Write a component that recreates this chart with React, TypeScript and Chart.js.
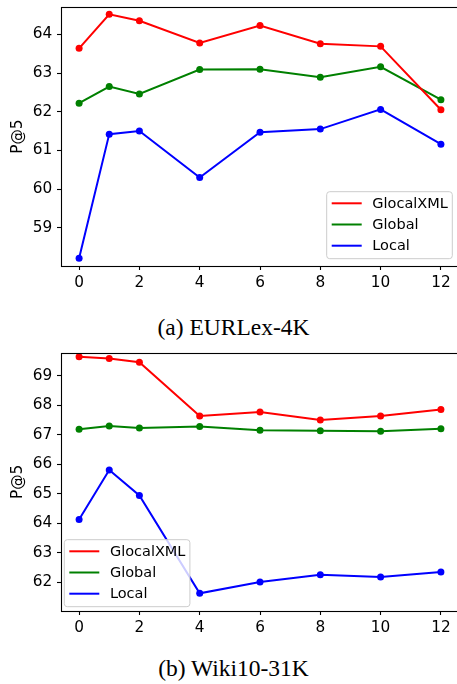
import React, { useEffect, useRef } from "react";
import { Chart, registerables } from "chart.js";

Chart.register(...registerables);

const xValues = [0, 1, 2, 4, 6, 8, 10, 12];
const xTickValues = [0, 2, 4, 6, 8, 10, 12];
const seriesNames = ["GlocalXML", "Global", "Local"];
const seriesColors = ["#ff0000", "#008000", "#0000ff"];

const eurlexGlocal = [63.64, 64.52, 64.35, 63.78, 64.23, 63.76, 63.69, 62.05];
const eurlexGlobal = [62.22, 62.65, 62.46, 63.09, 63.1, 62.89, 63.16, 62.31];
const eurlexLocal = [58.21, 61.42, 61.5, 60.3, 61.47, 61.55, 62.06, 61.16];
const eurlexYTicks = [59, 60, 61, 62, 63, 64];

const wikiGlocal = [69.65, 69.59, 69.47, 67.64, 67.78, 67.51, 67.64, 67.86];
const wikiGlobal = [67.19, 67.3, 67.24, 67.29, 67.16, 67.14, 67.13, 67.21];
const wikiLocal = [64.13, 65.81, 64.95, 61.63, 62.01, 62.26, 62.18, 62.35];
const wikiYTicks = [62, 63, 64, 65, 66, 67, 68, 69];

const FONT = "DejaVu Sans";
const FS = 15.3;
const LFS = 14.5;

type PanelProps = {
  series: number[][];
  yTicks: number[];
  yMin: number;
  yMax: number;
  padTop: number;
  height: number;
  top: number;
  legendSide: "left" | "right";
  legendDx: number;
  legendDy: number;
};

function Panel(p: PanelProps) {
  const ref = useRef<HTMLCanvasElement | null>(null);
  useEffect(() => {
    if (!ref.current) return;
    const framePlugin = {
      id: "frame",
      afterDraw(chart: any) {
        const { ctx, chartArea } = chart;
        ctx.save();
        ctx.strokeStyle = "#000";
        ctx.lineWidth = 1.1;
        const l = Math.round(chartArea.left) + 0.5;
        const t = Math.round(chartArea.top) + 0.5;
        const r = Math.round(chartArea.right) + 0.5;
        const b = Math.round(chartArea.bottom) + 0.5;
        ctx.strokeRect(l, t, r - l, b - t);
        // legend
        const w = 125.6;
        const h = 67;
        const x0 =
          p.legendSide === "right"
            ? chartArea.right - p.legendDx - w
            : chartArea.left + p.legendDx;
        const y0 = chartArea.bottom - p.legendDy - h;
        const rad = 3;
        ctx.beginPath();
        ctx.moveTo(x0 + rad, y0);
        ctx.lineTo(x0 + w - rad, y0);
        ctx.arcTo(x0 + w, y0, x0 + w, y0 + rad, rad);
        ctx.lineTo(x0 + w, y0 + h - rad);
        ctx.arcTo(x0 + w, y0 + h, x0 + w - rad, y0 + h, rad);
        ctx.lineTo(x0 + rad, y0 + h);
        ctx.arcTo(x0, y0 + h, x0, y0 + h - rad, rad);
        ctx.lineTo(x0, y0 + rad);
        ctx.arcTo(x0, y0, x0 + rad, y0, rad);
        ctx.closePath();
        ctx.fillStyle = "rgba(255,255,255,0.8)";
        ctx.fill();
        ctx.strokeStyle = "#cccccc";
        ctx.lineWidth = 1;
        ctx.stroke();
        chart.data.datasets.forEach((ds: any, i: number) => {
          const y = y0 + 11.6 + i * 21.2;
          ctx.beginPath();
          ctx.strokeStyle = ds.borderColor;
          ctx.lineWidth = 2;
          ctx.moveTo(x0 + 5, y);
          ctx.lineTo(x0 + 35, y);
          ctx.stroke();
          ctx.fillStyle = "#000";
          ctx.font = `${LFS}px "${FONT}"`;
          ctx.textBaseline = "middle";
          ctx.textAlign = "left";
          ctx.fillText(ds.label, x0 + 45.6, y + 0.5);
        });
        ctx.restore();
      },
    };
    const chart = new Chart(ref.current, {
      type: "line",
      data: {
        datasets: p.series.map((vals, i) => ({
          label: seriesNames[i],
          data: vals.map((v, j) => ({ x: xValues[j], y: v })),
          borderColor: seriesColors[i],
          backgroundColor: seriesColors[i],
          pointBackgroundColor: seriesColors[i],
          pointBorderWidth: 0,
          pointRadius: 3.5,
          borderWidth: 2,
          tension: 0,
          fill: false,
        })),
      },
      options: {
        animation: false,
        responsive: false,
        devicePixelRatio: 1,
        layout: { padding: { left: 0, right: 21, top: p.padTop, bottom: 0 } },
        plugins: { legend: { display: false }, tooltip: { enabled: false } },
        scales: {
          x: {
            type: "linear",
            min: -0.6,
            max: 12.6,
            border: { display: false },
            grid: {
              drawOnChartArea: false,
              drawTicks: true,
              tickLength: 4,
              tickColor: "#000",
              tickWidth: 1.1,
            },
            ticks: {
              color: "#000",
              font: { family: FONT, size: FS },
              padding: 3.5,
              maxRotation: 0,
              autoSkip: false,
            },
            afterBuildTicks: (axis: any) => {
              axis.ticks = xTickValues.map((v) => ({ value: v }));
            },
            afterFit: (axis: any) => {
              axis.height = 34;
              axis.paddingLeft = 0;
              axis.paddingRight = 0;
              axis.paddingTop = 0;
              axis.paddingBottom = 0;
            },
          },
          y: {
            type: "linear",
            min: p.yMin,
            max: p.yMax,
            border: { display: false },
            grid: {
              drawOnChartArea: false,
              drawTicks: true,
              tickLength: 4,
              tickColor: "#000",
              tickWidth: 1.1,
            },
            ticks: {
              color: "#000",
              font: { family: FONT, size: FS },
              padding: 4.7,
              autoSkip: false,
            },
            title: {
              display: true,
              text: "P@5",
              color: "#000",
              font: { family: FONT, size: FS },
              padding: { top: 9.2, bottom: 0 },
            },
            afterBuildTicks: (axis: any) => {
              axis.ticks = p.yTicks.map((v) => ({ value: v }));
            },
            afterFit: (axis: any) => {
              axis.width = 61;
              axis.paddingLeft = 0;
              axis.paddingRight = 0;
              axis.paddingTop = 0;
              axis.paddingBottom = 0;
            },
          },
        },
      },
      plugins: [framePlugin],
    } as any);
    return () => chart.destroy();
  }, []);
  return (
    <canvas
      ref={ref}
      width={480}
      height={p.height}
      style={{
        position: "absolute",
        left: 0,
        top: p.top,
        width: 480,
        height: p.height,
      }}
    />
  );
}

const captionStyle = (top: number): React.CSSProperties => ({
  position: "absolute",
  left: 0,
  width: 467,
  top,
  textAlign: "center",
  fontFamily: '"Liberation Serif", "Times New Roman", serif',
  fontSize: 23.5,
  lineHeight: "23.5px",
  color: "#000",
  whiteSpace: "nowrap",
});

export default function App() {
  return (
    <div
      style={{
        position: "fixed",
        left: 0,
        top: 0,
        width: 457,
        height: 684,
        overflow: "hidden",
        background: "#fff",
      }}
    >
      <Panel
        series={[eurlexGlocal, eurlexGlobal, eurlexLocal]}
        yTicks={eurlexYTicks}
        yMin={58.01}
        yMax={64.7}
        padTop={7.3}
        height={300}
        top={0}
        legendSide="right"
        legendDx={6.7}
        legendDy={7.3}
      />
      <div style={captionStyle(316.3)}>(a) EURLex-4K</div>
      <Panel
        series={[wikiGlocal, wikiGlobal, wikiLocal]}
        yTicks={wikiYTicks}
        yMin={61.03}
        yMax={69.79}
        padTop={12.7}
        height={305}
        top={340}
        legendSide="left"
        legendDx={3.3}
        legendDy={4.3}
      />
      <div style={captionStyle(657)}>(b) Wiki10-31K</div>
    </div>
  );
}
